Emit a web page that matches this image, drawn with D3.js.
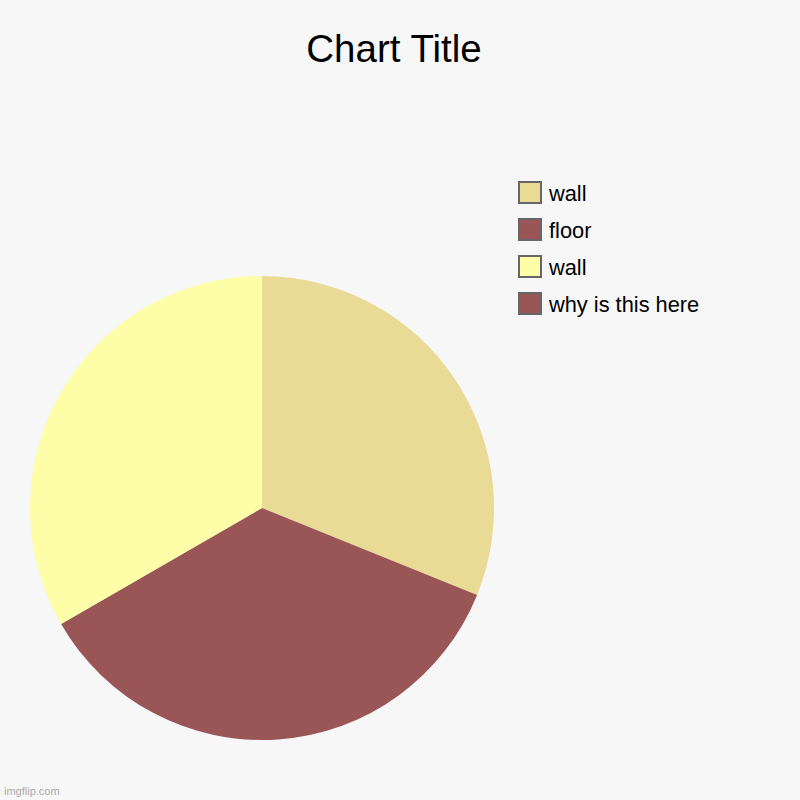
<!DOCTYPE html>
<html>
<head>
<meta charset="utf-8">
<script src="https://cdn.jsdelivr.net/npm/d3@7"></script>
<style>
body { margin: 0; background: #f7f7f7; }
svg { display: block; font-family: "Liberation Sans", Arial, sans-serif; }
</style>
</head>
<body>
<svg id="chart" width="800" height="800"></svg>
<script>
var labels = ["wall", "floor", "wall", "why is this here"];
var values = [28, 32, 30, 0];
var colors = ["#e9da95", "#9a5556", "#fefea8", "#9a5556"];
var title = "Chart Title";

var svg = d3.select("#chart");
svg.append("rect").attr("width", 800).attr("height", 800).attr("fill", "#f7f7f7");

svg.append("text")
	.attr("x", 394).attr("y", 62)
	.attr("text-anchor", "middle")
	.attr("font-size", 38.5)
	.attr("fill", "#000")
	.text(title);

var data = labels.map(function(d, i){
	return { label: d, value: values[i], color: colors[i] };
});

var pie = d3.pie().sort(null).value(function(d){ return d.value; });
var arc = d3.arc().innerRadius(0).outerRadius(232);

var g = svg.append("g").attr("transform", "translate(262,508)");
g.selectAll("path").data(pie(data))
	.enter().append("path")
		.attr("d", arc)
		.attr("fill", function(d){ return d.data.color; });

// legend
var legend = svg.append("g").attr("transform", "translate(519,182)");
var rows = legend.selectAll("g").data(data)
	.enter().append("g")
		.attr("transform", function(d, i){ return "translate(0," + (i * 37) + ")"; });

rows.append("rect")
	.attr("width", 22).attr("height", 21)
	.attr("fill", function(d){ return d.color; })
	.attr("stroke", "#666").attr("stroke-width", 2);

rows.append("text")
	.attr("x", 30).attr("y", 18.5)
	.attr("font-size", 21.8)
	.attr("fill", "#000")
	.text(function(d){ return d.label; });

svg.append("text")
	.attr("x", 4).attr("y", 795)
	.attr("font-size", 11)
	.attr("fill", "#aaa")
	.text("imgflip.com");
</script>
</body>
</html>
